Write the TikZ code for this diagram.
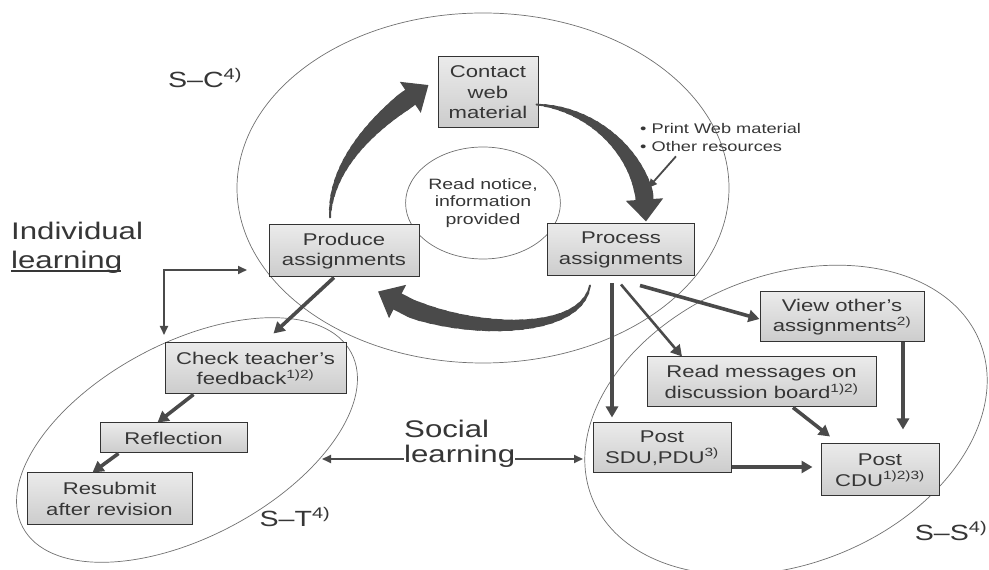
\documentclass[tikz,border=0pt]{standalone}
\usepackage{fontspec}
\setmainfont{Liberation Sans}[FakeStretch=1.3]
\usepackage{tikz}
\usetikzlibrary{positioning,shapes,arrows.meta,calc}
\definecolor{textgray}{HTML}{363636}
\definecolor{arrowgray}{HTML}{4A4A4A}
\definecolor{linegray}{HTML}{707070}
\tikzstyle{box}=[rectangle, draw=black!80, line width=1pt, top color=black!8, bottom color=black!20,
text=textgray, align=center, inner sep=1pt, font=\fontsize{17}{20.5}\selectfont]
\tikzstyle{zone}=[ellipse, draw=linegray, line width=0.7pt, inner sep=0pt]
\tikzstyle{tag}=[text=textgray, align=left, inner sep=0pt]
\tikzstyle{thickflow}=[draw=arrowgray, line width=3.6pt, -{Triangle[length=11pt,width=12pt]}]
\tikzstyle{thinflow}=[draw=arrowgray, line width=1.8pt, -{Triangle[length=9pt,width=8pt]}]
\newcommand{\bigturnarrow}[4]{%
  \path #1 .. controls #2 and #3 .. #4 \foreach \k in {0,...,24} {coordinate[pos=\k/24] (tp\k)};
  \foreach \k [count=\m] in {0,...,19} {\draw[arrowgray, line cap=round, line width=2pt+0.85pt*\k] (tp\k) -- (tp\m);}
  \draw[arrowgray, line width=18pt, -{Triangle[length=22pt,width=36pt]}] (tp20) -- (tp24);
}

\begin{document}
\begin{tikzpicture}[x=1pt,y=1pt]
            \useasboundingbox (0,0) rectangle (989,570);
            \node (sc)[zone, minimum width=492pt, minimum height=350pt] at (483,382) {};
            \node (st)[zone, minimum width=372pt, minimum height=194pt, rotate=28] at (187,130) {};
            \node (ss)[zone, minimum width=418pt, minimum height=288pt, rotate=22] at (786,150) {};
            \node (notice)[zone, minimum width=140pt, minimum height=112pt, align=center, text=textgray,
                font=\fontsize{15}{17.5}\selectfont] at (483,367) {Read notice,\\information\\provided};

            \node (contact)[box, minimum width=100pt, minimum height=71pt] at (488,477.5) {Contact\\web\\material};
            \node (produce)[box, minimum width=150pt, minimum height=52pt] at (344,319) {Produce\\assignments};
            \node (process)[box, minimum width=147pt, minimum height=52pt] at (621,320) {Process\\assignments};
            \node (check)[box, minimum width=181pt, minimum height=51pt] at (255.5,201.5)
                {Check teacher's\\feedback\textsuperscript{1)2)}};
            \node (reflect)[box, minimum width=147pt, minimum height=30pt] at (173.5,132) {Reflection};
            \node (resubmit)[box, minimum width=165pt, minimum height=52pt] at (109.5,71) {Resubmit\\after revision};
            \node (view)[box, minimum width=164pt, minimum height=50pt] at (842,253)
                {View other's\\assignments\textsuperscript{2)}};
            \node (board)[box, minimum width=229pt, minimum height=50pt] at (761.5,188)
                {Read messages on\\discussion board\textsuperscript{1)2)}};
            \node (sdu)[box, minimum width=138pt, minimum height=50pt] at (662,122) {Post\\SDU,PDU\textsuperscript{3)}};
            \node (cdu)[box, minimum width=118pt, minimum height=52pt] at (880,100) {Post\\CDU\textsuperscript{1)2)3)}};

            \node (sclabel)[tag, font=\fontsize{22}{26}\selectfont] at (205,492) {S--C\textsuperscript{4)}};
            \node (stlabel)[tag, font=\fontsize{22}{26}\selectfont] at (295,53) {S--T\textsuperscript{4)}};
            \node (sslabel)[tag, font=\fontsize{22}{26}\selectfont] at (951,39) {S--S\textsuperscript{4)}};
            \node (indiv)[tag, anchor=west, font=\fontsize{24}{29}\selectfont] at (11,322)
                {Individual\\\rlap{\rule[-3pt]{110pt}{1.3pt}}learning};
            \node (res)[tag, anchor=west, font=\fontsize{14}{18}\selectfont] at (640,432)
                {\textbullet\ Print Web material\\\textbullet\ Other resources};

            \bigturnarrow{([xshift=-14pt,yshift=7pt]produce.north)}{+(0,60)}{+(-40,-25)}{([xshift=-9pt,yshift=7.5pt]contact.west)}
            \bigturnarrow{([xshift=-2pt,yshift=-12pt]contact.east)}{+(65,-5)}{+(5,55)}{([xshift=25pt,yshift=2pt]process.north)}
            \bigturnarrow{([xshift=-31pt,yshift=-9pt]process.south)}{+(-10,-58)}{+(55,-40)}{([xshift=34pt,yshift=-14pt]produce.south)}

            \draw [thickflow] ([xshift=-10pt]produce.south) -- ([xshift=18pt,yshift=9pt]check.north);
            \draw [thickflow] ([xshift=-62pt]check.south) -- ([xshift=-16pt]reflect.north);
            \draw [thickflow] ([xshift=-55pt]reflect.south) -- ([xshift=-17pt]resubmit.north);
            \draw [thickflow, line width=4.4pt] ([xshift=-9pt,yshift=-7pt]process.south) -- ([xshift=-50pt,yshift=5pt]sdu.north);
            \draw [thickflow, line width=2.6pt] ([yshift=-8pt]process.south) -- ([xshift=-79.5pt]board.north);
            \draw [thickflow] ([xshift=19pt,yshift=-9pt]process.south) -- ([yshift=-2pt]view.west);
            \draw [thickflow] ([xshift=61pt]view.south) -- ([xshift=23pt,yshift=14pt]cdu.north);
            \draw [thickflow] ([xshift=31.5pt]board.south) -- ([xshift=-50pt,yshift=7pt]cdu.north);
            \draw [thickflow, line width=4.4pt] ([yshift=-19pt]sdu.east) -- ([xshift=-8pt,yshift=3pt]cdu.west);

            \coordinate (restip) at (648,382);
            \draw [thinflow] ([xshift=36pt,yshift=-4pt]res.south west) -- (restip);
            \coordinate (loopright) at (247,300);
            \coordinate (loopdown) at (164,235);
            \draw [thinflow, {Triangle[length=9pt,width=8pt]}-{Triangle[length=9pt,width=8pt]}] (loopright) -| (loopdown);
            \coordinate (stedge) at (322,111);
            \coordinate (ssedge) at (583,111);
            \draw [thinflow, {Triangle[length=9pt,width=8pt]}-{Triangle[length=9pt,width=8pt]}] (stedge) -- (ssedge);
            \node (social)[tag, anchor=west, fill=white, font=\fontsize{24}{25}\selectfont] at (404,126) {Social\\learning};
        \end{tikzpicture}
\end{document}
